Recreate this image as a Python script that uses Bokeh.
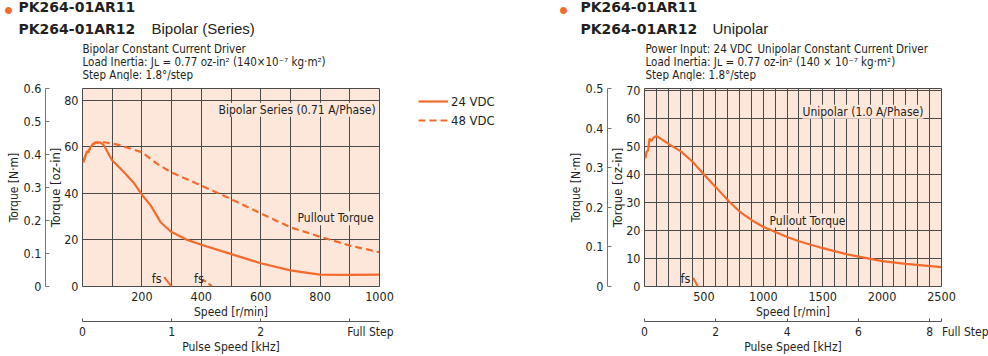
from bokeh.plotting import figure
from bokeh.models import Range1d, LinearAxis, FixedTicker, Label, Legend, LegendItem
from bokeh.layouts import row, column
from bokeh.embed import file_html
from bokeh.resources import INLINE

# ---------------- data ----------------
# Left chart: PK264-01AR11/12 Bipolar (Series), pullout torque [oz-in] vs speed [r/min]
speed_24 = [3, 8, 15, 20, 26, 34, 41, 62, 73, 99, 140, 174, 200, 230, 263, 297, 353, 400, 499, 600, 700, 799, 900, 1000]
torque_24 = [53.3, 55.4, 58.0, 57.6, 59.7, 60.9, 61.7, 61.7, 60.4, 54.3, 49.0, 44.3, 39.4, 34.7, 27.6, 23.6, 20.0, 17.9, 14.0, 10.0, 6.9, 5.1, 5.0, 5.1]
speed_48 = [3, 8, 15, 20, 26, 34, 45, 73, 118, 200, 252, 299, 400, 499, 600, 700, 799, 899, 1000]
torque_48 = [53.3, 55.4, 58.0, 57.6, 59.7, 60.9, 61.8, 61.9, 60.9, 57.6, 52.6, 49.0, 43.3, 37.6, 31.4, 25.4, 21.4, 17.6, 14.7]
fs_24_speed = [275, 300]
fs_24_torque = [4.0, 0.0]
fs_48_speed = [405, 438]
fs_48_torque = [3.0, 0.0]

# Right chart: PK264-01AR11/12 Unipolar
speed_uni = [8, 17, 31, 42, 56, 79, 101, 135, 205, 303, 401, 502, 612, 710, 800, 903, 1002, 1201, 1300, 1501, 1706, 2001, 2200, 2500]
torque_uni = [45.8, 48.1, 48.7, 52.9, 52.0, 53.3, 53.8, 52.9, 50.9, 48.4, 44.8, 40.0, 35.0, 30.5, 26.8, 23.7, 21.3, 17.7, 16.2, 13.7, 11.5, 9.1, 8.1, 6.9]
fs_uni_speed = [410, 449]
fs_uni_torque = [3.1, 0.0]

# ticks
left_speed_ticks = [200, 400, 600, 800, 1000]
left_speed_grid = [100, 200, 300, 400, 500, 600, 700, 800, 900]
left_oz_ticks = [0, 20, 40, 60, 80]
left_oz_grid = [20, 40, 60, 80]
left_nm_ticks = [0, 0.1, 0.2, 0.3, 0.4, 0.5, 0.6]
left_khz_ticks = [0, 1, 2, 3]

right_speed_ticks = [500, 1000, 1500, 2000, 2500]
right_speed_grid = list(range(100, 2500, 100))
right_oz_ticks = [0, 10, 20, 30, 40, 50, 60, 70]
right_oz_grid = [10, 20, 30, 40, 50, 60, 70]
right_nm_ticks = [0, 0.1, 0.2, 0.3, 0.4, 0.5]
right_khz_ticks = [0, 2, 4, 6, 8]

series_labels = ["24 VDC", "48 VDC"]
FULL_STEP = "Full Step"
OZIN_PER_NM = 141.612
STEPS_PER_REV = 200

# ---------------- style ----------------
ORANGE = "#F36B2B"
BG = "#FDE7DB"
GRID = "#4a4a4a"
TXT = "#231F20"
NARROW = "DejaVu Sans Condensed, Roboto Condensed, Roboto"
REG = "Liberation Sans"
BOLD = "DejaVu Sans"
NBSP = "\u00a0"
HEAD_H = 81
CHART_H = 356 - HEAD_H
TOP_B = 88 - HEAD_H
BOT_B = 70


def style_axis(ax, size="12px"):
    ax.major_label_text_font = NARROW
    ax.major_label_text_font_size = size
    ax.major_label_text_color = TXT
    ax.axis_label_text_font = NARROW
    ax.axis_label_text_font_style = "normal"
    ax.axis_label_text_color = TXT
    ax.minor_tick_in = 0
    ax.minor_tick_out = 0


def spacer(range_name, px, dim):
    if dim == "y":
        a = LinearAxis(y_range_name=range_name, ticker=FixedTicker(ticks=[]))
    else:
        a = LinearAxis(x_range_name=range_name, ticker=FixedTicker(ticks=[]))
    a.axis_line_color = None
    a.major_tick_line_color = None
    a.major_tick_out = px
    a.major_tick_in = 0
    a.minor_tick_out = 0
    a.major_label_standoff = 0
    a.axis_label_standoff = 0
    return a


def make_chart(width, left_border, right_border, speed_max, nm_max,
               speed_ticks, speed_grid, oz_ticks, oz_grid, nm_ticks,
               khz_ticks, khz_labels, sp_y, sp_x):
    oz_max = nm_max * OZIN_PER_NM
    khz_max = speed_max * STEPS_PER_REV / 60 / 1000
    p = figure(width=width, height=CHART_H, output_backend="svg", toolbar_location=None,
               x_range=Range1d(0, speed_max), y_range=Range1d(0, oz_max),
               min_border_left=left_border, min_border_right=right_border,
               min_border_top=TOP_B, min_border_bottom=BOT_B,
               background_fill_color=BG, border_fill_color="white",
               outline_line_color=GRID, outline_line_width=1)
    p.extra_y_ranges = {"nm": Range1d(0, nm_max)}
    p.extra_x_ranges = {"khz": Range1d(0, khz_max)}

    p.xgrid.ticker = FixedTicker(ticks=speed_grid)
    p.ygrid.ticker = FixedTicker(ticks=oz_grid)
    for g in (p.xgrid[0], p.ygrid[0]):
        g.grid_line_color = GRID
        g.grid_line_width = 1

    # oz-in axis (inner left)
    ya = p.yaxis[0]
    ya.ticker = FixedTicker(ticks=oz_ticks)
    style_axis(ya, "12.5px")
    ya.axis_line_color = None
    ya.major_tick_out = 0
    ya.major_tick_in = 0
    ya.major_label_standoff = 4
    ya.axis_label = "Torque [oz-in]"
    ya.axis_label_text_font_size = "13px"
    ya.axis_label_standoff = -2

    p.add_layout(spacer("nm", sp_y, "y"), "left")

    nm = LinearAxis(y_range_name="nm", ticker=FixedTicker(ticks=nm_ticks),
                    major_label_overrides={0: "0"})
    style_axis(nm, "12.5px")
    nm.axis_line_color = "#777777"
    nm.major_tick_line_color = "#777777"
    nm.major_tick_in = 4
    nm.major_tick_out = 0
    nm.major_label_standoff = 4
    nm.axis_label = "Torque [N·m]"
    nm.axis_label_text_font_size = "12px"
    nm.axis_label_standoff = 0
    p.add_layout(nm, "left")

    # speed axis (inner bottom)
    xa = p.xaxis[0]
    xa.ticker = FixedTicker(ticks=speed_ticks)
    style_axis(xa, "12.5px")
    xa.axis_line_color = None
    xa.major_tick_out = 0
    xa.major_tick_in = 0
    xa.major_label_standoff = 5
    xa.axis_label = "Speed [r/min]"
    xa.axis_label_text_font_size = "12px"
    xa.axis_label_standoff = 1

    p.add_layout(spacer("khz", sp_x, "x"), "below")

    ka = LinearAxis(x_range_name="khz", ticker=FixedTicker(ticks=khz_ticks(khz_max)),
                    major_label_overrides=khz_labels(khz_max))
    style_axis(ka, "12px")
    ka.axis_line_color = "#555555"
    ka.major_tick_line_color = "#555555"
    ka.major_tick_in = 3
    ka.major_tick_out = 0
    ka.major_label_standoff = 3
    ka.axis_label = "Pulse Speed [kHz]"
    ka.axis_label_text_font_size = "12px"
    ka.axis_label_standoff = -2
    p.add_layout(ka, "below")
    return p, oz_max, khz_max


def lab(p, text, x, y, size, font=NARROW, style="normal", color=TXT, **kw):
    l = Label(x=x, y=y, text=text, text_font=font, text_font_size=size,
              text_font_style=style, text_color=color, text_baseline="middle", **kw)
    p.add_layout(l)
    return l


# ================= HEADER (both charts) =================
hd = figure(width=988, height=HEAD_H, output_backend="svg", toolbar_location=None,
            x_range=Range1d(0, 988), y_range=Range1d(HEAD_H, 0),
            x_axis_type=None, y_axis_type=None, min_border=0,
            outline_line_color=None, background_fill_color="white",
            border_fill_color="white")
hd.grid.visible = False

SUB = "11.5px"
lab(hd, "●", 8, 8.5, "16px", font=REG, color=ORANGE, text_align="center")
lab(hd, "PK264-01AR11", 18, 6.5, "14px", font=BOLD, style="bold")
lab(hd, "PK264-01AR12", 18, 28, "14px", font=BOLD, style="bold")
lab(hd, "Bipolar (Series)", 151, 28, "15px", font=REG)
lab(hd, "Bipolar Constant Current Driver", 82, 48.5, SUB)
lab(hd, "Load Inertia: Jʟ = 0.77 oz-in² (140×10⁻⁷ kg·m²)", 82, 61.5, SUB)
lab(hd, "Step Angle: 1.8°/step", 82, 74.5, SUB)

lab(hd, "●", 563, 8.5, "16px", font=REG, color=ORANGE, text_align="center")
lab(hd, "PK264-01AR11", 580, 6.5, "14px", font=BOLD, style="bold")
lab(hd, "PK264-01AR12", 580, 28, "14px", font=BOLD, style="bold")
lab(hd, "Unipolar", 712, 28, "15px", font=REG)
lab(hd, "Power Input: 24 VDC", 645, 48.5, SUB)
lab(hd, "Unipolar Constant Current Driver", 757, 48.5, SUB)
lab(hd, "Load Inertia: Jʟ = 0.77 oz-in² (140 × 10⁻⁷ kg·m²)", 645, 61.5, SUB)
lab(hd, "Step Angle: 1.8°/step", 645, 74.5, SUB)

# ================= LEFT =================
LW = 400
pl, ozl, khzl = make_chart(LW, 82, LW - 379, 1000, 0.6,
                           left_speed_ticks, left_speed_grid, left_oz_ticks, left_oz_grid,
                           left_nm_ticks,
                           lambda m: left_khz_ticks,
                           lambda m: {0: "0", 1: "1", 2: "2", 3: NBSP * 12 + FULL_STEP},
                           20, 3)

pl.line(speed_24, torque_24, line_color=ORANGE, line_width=2.2)
pl.line(speed_48, torque_48, line_color=ORANGE, line_width=2.2, line_dash="7 4")
pl.line(fs_24_speed, fs_24_torque, line_color=ORANGE, line_width=2)
pl.line(fs_48_speed, fs_48_torque, line_color=ORANGE, line_width=2, line_dash="4 3")

lab(pl, "fs", 250, 3.6, "12.5px", text_align="center")
lab(pl, "fs", 392, 3.6, "12.5px", text_align="center")
lab(pl, "Bipolar Series (0.71 A/Phase)", 987, 75.8, "12px", text_align="right",
    background_fill_color=BG)
lab(pl, "Pullout Torque", 852, 29.3, "12px", text_align="center",
    background_fill_color=BG)

# ================= LEGEND (between the charts) =================
# The legend figure re-uses the two series with ranges that keep them out of its own frame,
# so only the legend entries are visible.
GW = 550 - LW
lg = figure(width=GW, height=CHART_H, output_backend="svg", toolbar_location=None,
            x_range=Range1d(-20, -10), y_range=Range1d(-20, -10),
            x_axis_type=None, y_axis_type=None,
            min_border_left=0, min_border_right=0, min_border_top=TOP_B, min_border_bottom=BOT_B,
            outline_line_color=None, background_fill_color="white", border_fill_color="white")
lg.grid.visible = False
k24 = lg.line(speed_24, torque_24, line_color=ORANGE, line_width=2.2)
k48 = lg.line(speed_48, torque_48, line_color=ORANGE, line_width=2.2, line_dash="7 4")
legend = Legend(items=[LegendItem(label=series_labels[0], renderers=[k24]),
                       LegendItem(label=series_labels[1], renderers=[k48])],
                location=(420 - LW - 2, 157), glyph_width=30, glyph_height=18, label_height=18,
                label_standoff=3, spacing=1, padding=2, margin=0,
                border_line_color=None, background_fill_alpha=0,
                label_text_font=NARROW, label_text_font_size="13px", label_text_color=TXT)
lg.add_layout(legend)

# ================= RIGHT =================
RW = 988 - 550
pr, ozr, khzr = make_chart(RW, 644 - 550, 988 - 941, 2500, 0.5,
                           right_speed_ticks, right_speed_grid, right_oz_ticks, right_oz_grid,
                           right_nm_ticks,
                           lambda m: right_khz_ticks + [m],
                           lambda m: {0: "0", 2: "2", 4: "4", 6: "6", 8: "8",
                                      m: NBSP * 17 + FULL_STEP},
                           7, 3)

pr.line(speed_uni, torque_uni, line_color=ORANGE, line_width=2.2)
pr.line(fs_uni_speed, fs_uni_torque, line_color=ORANGE, line_width=2)
lab(pr, "fs", 345, 3.0, "12.5px", text_align="center")
lab(pr, "Unipolar (1.0 A/Phase)", 2348, 62.5, "12px", text_align="right",
    background_fill_color=BG)
lab(pr, "Pullout Torque", 1372, 23.6, "12px", text_align="center",
    background_fill_color=BG)

layout = column(hd, row(pl, lg, pr))
open("out.html", "w").write(file_html(layout, INLINE))
